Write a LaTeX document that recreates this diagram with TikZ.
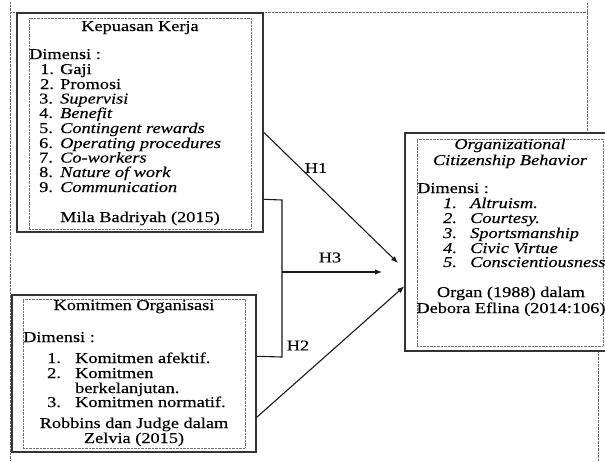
\documentclass[tikz,border=0pt]{standalone}
\usepackage{fontspec}
\setmainfont[FakeStretch=1.22,FakeBold=0.3]{Liberation Serif}
\usetikzlibrary{calc,arrows.meta}
\tikzset{
  txtl/.style={inner sep=0pt, anchor=base west, font=\fontsize{15}{15}\selectfont},
  txtc/.style={inner sep=0pt, anchor=base, font=\fontsize{15}{15}\selectfont},
  framedot/.style={draw=black!60, line width=0.9pt, dash pattern=on 0.7pt off 0.7pt},
  outerbox/.style={draw=black!80, line width=1.4pt, fill=white, inner sep=0pt},
  innerbox/.style={draw=black!55, line width=0.8pt, dash pattern=on 0.7pt off 0.7pt, inner sep=0pt},
  conn/.style={draw=black!90, line width=1.1pt},
  arr/.style={conn, -{Latex[length=7pt,width=5.5pt]}},
}
\begin{document}
\begin{tikzpicture}[x=1pt,y=-1pt]
\useasboundingbox (0,0) rectangle (605,461);
% outer dotted frame
\coordinate (fa) at (10,2);
\coordinate (fb) at (10,461);
\coordinate (fc) at (10,12);
\coordinate (fd) at (587,12);
\coordinate (fe) at (587,3);
\coordinate (ff) at (587,133);
\coordinate (fg) at (598,351);
\coordinate (fh) at (598,461);
\draw[framedot] (fa) -- (fb);
\draw[framedot] (fc) -- (fd);
\draw[framedot] (fe) -- (ff);
\draw[framedot] (fg) -- (fh);

% boxes
\node[outerbox, minimum width=246pt, minimum height=219pt] (kep) at (140,122.5) {};
\node[innerbox, minimum width=222pt, minimum height=211pt] (kepi) at (140,123.5) {};
\node[outerbox, minimum width=244pt, minimum height=157pt] (kom) at (134,373.5) {};
\node[innerbox, minimum width=222pt, minimum height=149pt] (komi) at (134,373.5) {};
\node[outerbox, minimum width=203pt, minimum height=218pt] (ocb) at (506.5,242) {};
\node[innerbox, minimum width=186pt, minimum height=207pt] (ocbi) at (510,242.5) {};

% Box 1 text
\node[txtc] (k1t) at (140,31) {Kepuasan Kerja};
\node[txtl] (k1d) at (29,59) {Dimensi :};
\node[txtl] (k1n1) at (40,74) {1.};    \node[txtl] (k1i1) at (60,74) {Gaji};
\node[txtl] (k1n2) at (40,89) {2.};    \node[txtl] (k1i2) at (60,89) {Promosi};
\node[txtl] (k1n3) at (39,103.5) {3.}; \node[txtl] (k1i3) at (60,103.5) {\itshape Supervisi};
\node[txtl] (k1n4) at (39,118) {4.};   \node[txtl] (k1i4) at (60,118) {\itshape Benefit};
\node[txtl] (k1n5) at (39,133) {5.};   \node[txtl] (k1i5) at (60,133) {\itshape Contingent rewards};
\node[txtl] (k1n6) at (39,148) {6.};   \node[txtl] (k1i6) at (60,148) {\itshape Operating procedures};
\node[txtl] (k1n7) at (39,162.5) {7.}; \node[txtl] (k1i7) at (60,162.5) {\itshape Co-workers};
\node[txtl] (k1n8) at (39,177) {8.};   \node[txtl] (k1i8) at (60,177) {\itshape Nature of work};
\node[txtl] (k1n9) at (39,192) {9.};   \node[txtl] (k1i9) at (60,192) {\itshape Communication};
\node[txtc] (k1s) at (140,222) {Mila Badriyah (2015)};

% Box 2 text
\node[txtc] (k2t) at (134,310) {Komitmen Organisasi};
\node[txtl] (k2d) at (23,342) {Dimensi :};
\node[txtl] (k2n1) at (47,363) {1.}; \node[txtl] (k2i1) at (75,363) {Komitmen afektif.};
\node[txtl] (k2n2) at (47,378) {2.}; \node[txtl] (k2i2) at (75,378) {Komitmen};
\node[txtl] (k2i2b) at (75,393) {berkelanjutan.};
\node[txtl] (k2n3) at (47,407) {3.}; \node[txtl] (k2i3) at (75,407) {Komitmen normatif.};
\node[txtc] (k2s1) at (134,428) {Robbins dan Judge dalam};
\node[txtc] (k2s2) at (134,443) {Zelvia (2015)};

% Box 3 text
\node[txtc] (k3t1) at (510,149) {\itshape Organizational};
\node[txtc] (k3t2) at (510,165) {\itshape Citizenship Behavior};
\node[txtl] (k3d) at (417,193) {Dimensi :};
\node[txtl] (k3n1) at (443,208) {\itshape 1.}; \node[txtl] (k3i1) at (470,208) {\itshape Altruism.};
\node[txtl] (k3n2) at (443,223) {\itshape 2.}; \node[txtl] (k3i2) at (470,223) {\itshape Courtesy.};
\node[txtl] (k3n3) at (443,238) {\itshape 3.}; \node[txtl] (k3i3) at (470,238) {\itshape Sportsmanship};
\node[txtl] (k3n4) at (443,253) {\itshape 4.}; \node[txtl] (k3i4) at (470,253) {\itshape Civic Virtue};
\node[txtl] (k3n5) at (443,267) {\itshape 5.}; \node[txtl] (k3i5) at (470,267) {\itshape Conscientiousness};
\node[txtc] (k3s1) at (511,297) {Organ (1988) dalam};
\node[txtc] (k3s2) at (511,313) {Debora Eflina (2014:106)};

% connectors
\coordinate (h1s) at ($(kep.north east)+(0,120)$);
\coordinate (h1e) at (398,263);
\draw[arr] (h1s) -- (h1e);
\coordinate (bra) at ($(kep.north east)+(0,187)$);
\coordinate (brb) at (282,200);
\coordinate (brc) at (282,357);
\coordinate (brd) at ($(kom.north east)+(0,62)$);
\draw[conn] (bra) -- (brb) -- (brc) -- (brd);
\coordinate (h3s) at (282,272);
\coordinate (h3e) at (382,272);
\draw[arr] (h3s) -- (h3e);
\coordinate (h2s) at ($(kom.north east)+(0,123)$);
\coordinate (h2e) at ($(ocb.north west)+(0,154)$);
\draw[arr] (h2s) -- (h2e);

% labels
\node[txtc, anchor=center] (lh1) at (316,168) {H1};
\node[txtc, anchor=center] (lh3) at (330,257.5) {H3};
\node[txtc, anchor=center] (lh2) at (298,345.5) {H2};
\end{tikzpicture}
\end{document}
